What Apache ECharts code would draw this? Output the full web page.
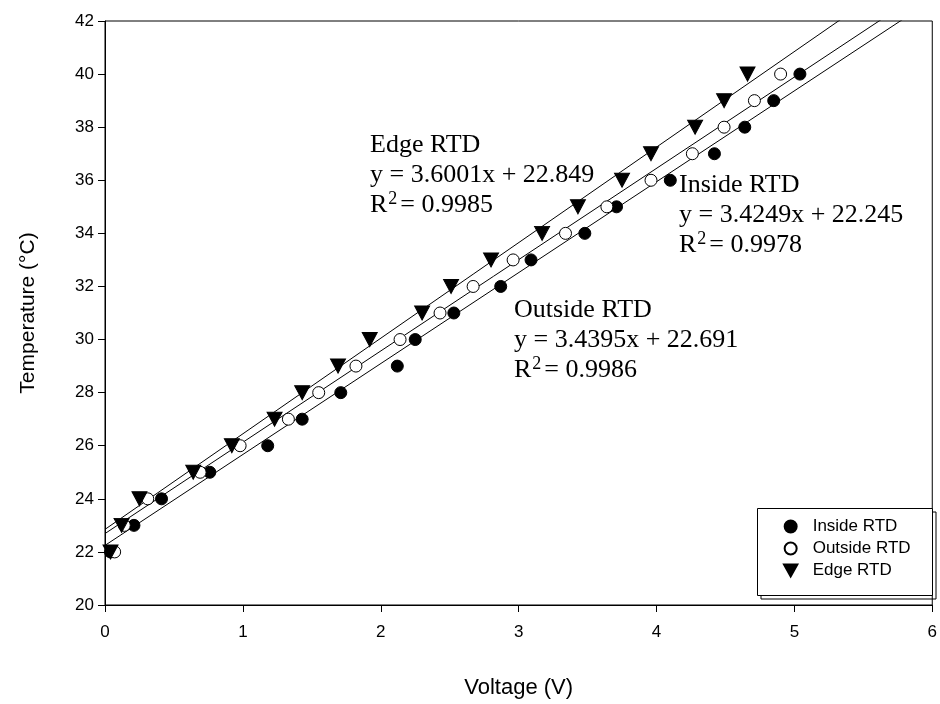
<!DOCTYPE html>
<html>
<head>
<meta charset="utf-8">
<script src="https://cdn.jsdelivr.net/npm/echarts@6/dist/echarts.min.js"></script>
<style>
  html, body { margin: 0; padding: 0; background: #fff; }
  #chart { width: 940px; height: 704px; }
</style>
</head>
<body>
<div id="chart"></div>
<script>
// temperature steps (°C), shared by all three RTDs
const temps = [22, 23, 24, 25, 26, 27, 28, 29, 30, 31, 32, 33, 34, 35, 36, 37, 38, 39, 40]
// voltage read for each temperature
const insideV = [0.04, 0.21, 0.41, 0.76, 1.18, 1.43, 1.71, 2.12, 2.25, 2.53, 2.87, 3.09, 3.48, 3.71, 4.10, 4.42, 4.64, 4.85, 5.04]
const outsideV = [0.07, 0.14, 0.31, 0.69, 0.98, 1.33, 1.55, 1.82, 2.14, 2.43, 2.67, 2.96, 3.34, 3.64, 3.96, 4.26, 4.49, 4.71, 4.90]
const edgeV = [0.04, 0.12, 0.25, 0.64, 0.92, 1.23, 1.43, 1.69, 1.92, 2.30, 2.51, 2.80, 3.17, 3.43, 3.75, 3.96, 4.28, 4.49, 4.66]

// trend line end points (x = 0 and x = 6, clipped by the grid)
const insideFit = [[0, 22.245], [6, 42.794]]
const outsideFit = [[0, 22.691], [6, 43.328]]
const edgeFit = [[0, 22.849], [6, 44.450]]

const pair = (xs) => xs.map((x, i) => [x, temps[i]])

const sans = 'Liberation Sans'
const serif = 'Liberation Serif'
const downTriangle = 'path://M0,0 L10,0 L5,9 Z'

function fitLine (data) {
  return {
    type: 'line',
    data: data,
    symbol: 'none',
    silent: true,
    clip: true,
    lineStyle: { color: '#000', width: 1 },
    z: 1
  }
}

function note (x, y, title, eq, r2) {
  return {
    type: 'text',
    left: x,
    top: y,
    z: 5,
    style: {
      text: title + '\n' + eq + '\n{r|R}{sup|2}{r|= ' + r2 + '}',
      font: '26px "' + serif + '"',
      fill: '#000',
      lineHeight: 30,
      rich: {
        r: { fontFamily: serif, fontSize: 26, lineHeight: 30 },
        sup: { fontFamily: serif, fontSize: 18, verticalAlign: 'top', lineHeight: 22, padding: [0, 3, 0, 1] }
      }
    }
  }
}

const chart = echarts.init(document.getElementById('chart'))
chart.setOption({
  animation: false,
  backgroundColor: '#fff',
  grid: {
    left: 105,
    right: 5,
    top: 21,
    bottom: 99,
    show: true,
    borderColor: '#000',
    borderWidth: 1,
    backgroundColor: 'transparent'
  },
  xAxis: {
    type: 'value',
    min: 0,
    max: 6,
    interval: 1,
    name: 'Voltage (V)',
    nameLocation: 'middle',
    nameGap: 72,
    nameTextStyle: { fontFamily: sans, fontSize: 22, color: '#000' },
    axisLine: { lineStyle: { color: '#000', width: 1 } },
    axisTick: { length: 7, lineStyle: { color: '#000' } },
    axisLabel: { fontFamily: sans, fontSize: 17, color: '#000', margin: 19 },
    splitLine: { show: false }
  },
  yAxis: {
    type: 'value',
    min: 20,
    max: 42,
    interval: 2,
    name: 'Temperature (°C)',
    nameLocation: 'middle',
    nameRotate: 90,
    nameGap: 66,
    nameTextStyle: { fontFamily: sans, fontSize: 21, color: '#000' },
    axisLine: { lineStyle: { color: '#000', width: 1 } },
    axisTick: { length: 7, lineStyle: { color: '#000' } },
    axisLabel: { fontFamily: sans, fontSize: 17, color: '#000', margin: 11 },
    splitLine: { show: false }
  },
  legend: {
    orient: 'vertical',
    left: 778,
    top: 513,
    z: 10,
    itemWidth: 14,
    itemHeight: 12,
    itemGap: 5,
    data: [
      { name: 'Inside RTD' },
      { name: 'Outside RTD' },
      { name: 'Edge RTD', icon: downTriangle }
    ],
    textStyle: { fontFamily: sans, fontSize: 17, color: '#000', padding: [0, 0, 0, 10] }
  },
  graphic: [
    { type: 'rect', z: 8, shape: { x: 761, y: 512, width: 175, height: 87 }, style: { fill: 'none', stroke: '#000', lineWidth: 1 } },
    { type: 'rect', z: 9, shape: { x: 757.5, y: 508.5, width: 175, height: 87 }, style: { fill: '#fff', stroke: '#000', lineWidth: 1 } },
    note(370, 130, 'Edge RTD', 'y = 3.6001x + 22.849', '0.9985'),
    note(679, 170, 'Inside RTD', 'y = 3.4249x + 22.245', '0.9978'),
    note(514, 295, 'Outside RTD', 'y = 3.4395x + 22.691', '0.9986')
  ],
  series: [
    fitLine(insideFit),
    fitLine(outsideFit),
    fitLine(edgeFit),
    {
      name: 'Inside RTD',
      type: 'scatter',
      data: pair(insideV),
      symbol: 'circle',
      symbolSize: 12,
      itemStyle: { color: '#000', borderColor: '#000', borderWidth: 1, opacity: 1 },
      z: 3
    },
    {
      name: 'Outside RTD',
      type: 'scatter',
      data: pair(outsideV),
      symbol: 'circle',
      symbolSize: 12,
      itemStyle: { color: '#fff', borderColor: '#000', borderWidth: 1, opacity: 1 },
      z: 3
    },
    {
      name: 'Edge RTD',
      type: 'scatter',
      data: pair(edgeV),
      symbol: 'triangle',
      symbolRotate: 180,
      symbolSize: [15, 14],
      itemStyle: { color: '#000', borderColor: '#000', borderWidth: 1, opacity: 1 },
      z: 3
    }
  ]
})
</script>
</body>
</html>
